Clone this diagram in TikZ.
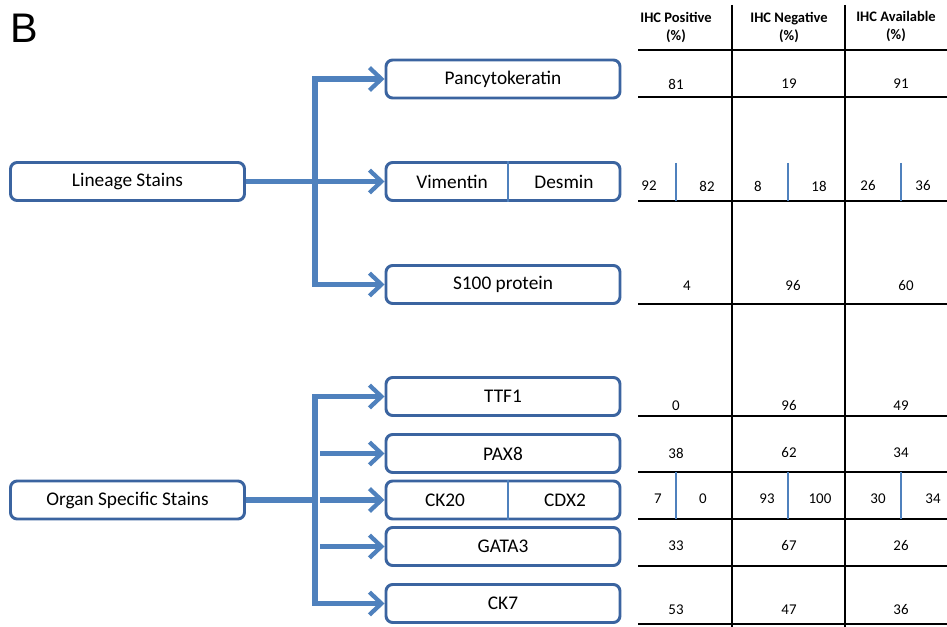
\documentclass[tikz,border=0pt]{standalone}
\usepackage{fontspec}
\setmainfont{Carlito}
\newfontfamily\arialf{Liberation Sans}
\usetikzlibrary{arrows.meta}
\definecolor{arrblue}{HTML}{4F81BD}
\definecolor{boxblue}{HTML}{3B64A0}
\tikzset{
  stainbox/.style={draw=boxblue, line width=2.2pt, rounded corners=5pt, fill=white,
    minimum width=175.5pt, minimum height=28.5pt, inner sep=0pt, font=\fontsize{14.5}{16}\selectfont},
  boxtxt/.style={inner sep=0pt, font=\fontsize{14.5}{16}\selectfont},
  conn/.style={draw=arrblue, line width=3.8pt},
  arr/.style={conn, -{Straight Barb[length=9pt, width=17pt, line width=3.2pt]}},
  boxdiv/.style={draw=arrblue, line width=2.2pt},
  grid/.style={draw=black, line width=1.3pt},
  celldiv/.style={draw=arrblue, line width=1.9pt},
  num/.style={inner sep=0pt, font=\fontsize{11.2}{12}\selectfont},
  head/.style={inner sep=0pt, align=center, font=\bfseries\fontsize{10.9}{13.5}\selectfont}
}
\begin{document}
\begin{tikzpicture}[x=0.75pt, y=-0.75pt]
\useasboundingbox (0,0) rectangle (947,627);
\node[inner sep=0pt, font=\arialf\fontsize{31}{34}\selectfont] (B) at (24.5,28.5) {B};

% left boxes
\node[stainbox] (lin) at (127.5,181.5) {Lineage Stains};
\node[stainbox] (org) at (127.5,500) {Organ Specific Stains};

% right boxes
\node[stainbox] (pan) at (503,79) {Pancytokeratin};
\node[stainbox] (vd)  at (503,181.5) {};
\node[stainbox] (s100) at (503,284.5) {S100 protein};
\node[stainbox] (ttf) at (503,396.5) {TTF1};
\node[stainbox] (pax) at (503,453.5) {PAX8};
\node[stainbox] (cc)  at (503,500) {};
\node[stainbox] (gat) at (503,546.5) {GATA3};
\node[stainbox] (ck7) at (503,603.5) {CK7};

\draw[boxdiv] ([xshift=3.75pt]vd.north) -- ([xshift=3.75pt]vd.south);
\draw[boxdiv] ([xshift=3.75pt]cc.north) -- ([xshift=3.75pt]cc.south);
\node[boxtxt] (vim) at (452,181.5) {Vimentin};
\node[boxtxt] (des) at (564,181.5) {Desmin};
\node[boxtxt] (ck20) at (445,500) {CK20};
\node[boxtxt] (cdx) at (565,500) {CDX2};

% connectors: lineage
\coordinate (ljoin) at (315,181.5);
\draw[arr] (lin.east) -- (vd.west);
\draw[arr] (ljoin) |- (pan.west);
\draw[arr] (ljoin) |- (s100.west);

% connectors: organ
\coordinate (ojoin) at (315,500);
\coordinate (paxs) at (320,453.5);
\coordinate (ccs) at (320,500);
\coordinate (gats) at (320,546.5);
\draw[conn] (org.east) -- (ojoin);
\draw[arr] (ojoin) |- (ttf.west);
\draw[arr] (ojoin) |- (ck7.west);
\draw[arr] (paxs) -- (pax.west);
\draw[arr] (ccs) -- (cc.west);
\draw[arr] (gats) -- (gat.west);

% table grid
\draw[grid] (732,5) -- (732,627);
\draw[grid] (845,5) -- (845,627);
\foreach \yy in {50,97,201,304,416,472,519,566,624}
  \draw[grid] (638,\yy) -- (947,\yy);

% headers
\node[head] (h1) at (676,27) {IHC Positive\\(\%)};
\node[head] (h2) at (789,27) {IHC Negative\\(\%)};
\node[head] (h3) at (896,27) {IHC Available\\(\%)};

% split dividers
\foreach \xx in {676,788,901} {
  \draw[celldiv] (\xx,163) -- (\xx,201);
  \draw[celldiv] (\xx,472) -- (\xx,519);
}

% values
\node[num] at (676,84) {81};
\node[num] at (789,84) {19};
\node[num] at (901,84) {91};

\node[num] at (649,186) {92};
\node[num] at (707,186) {82};
\node[num] at (758,186) {8};
\node[num] at (819,186) {18};
\node[num] at (868,186) {26};
\node[num] at (923,186) {36};

\node[num] at (687,286) {4};
\node[num] at (793,286) {96};
\node[num] at (906,286) {60};

\node[num] at (676,406) {0};
\node[num] at (789,406) {96};
\node[num] at (901,406) {49};

\node[num] at (676,453) {38};
\node[num] at (789,453) {62};
\node[num] at (901,453) {34};

\node[num] at (658,499) {7};
\node[num] at (703,499) {0};
\node[num] at (767,499) {93};
\node[num] at (820,499) {100};
\node[num] at (878,499) {30};
\node[num] at (933,499) {34};

\node[num] at (676,546) {33};
\node[num] at (789,546) {67};
\node[num] at (901,546) {26};

\node[num] at (676,610) {53};
\node[num] at (789,610) {47};
\node[num] at (901,610) {36};
\end{tikzpicture}
\end{document}
